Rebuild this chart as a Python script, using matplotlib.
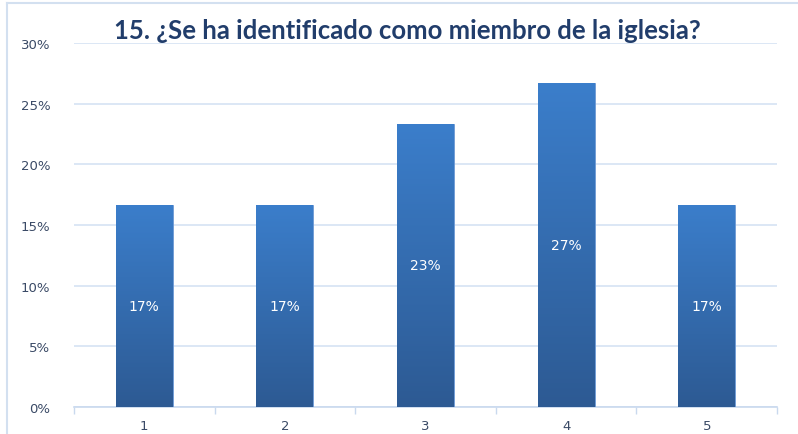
import numpy as np
import matplotlib.pyplot as plt
from matplotlib.colors import LinearSegmentedColormap
from matplotlib.ticker import PercentFormatter

categories = ['1', '2', '3', '4', '5']
values = [16.67, 16.67, 23.33, 26.67, 16.67]
labels = ['17%', '17%', '23%', '27%', '17%']
title = '15. ¿Se ha identificado como miembro de la iglesia?'

plt.rcParams['font.family'] = ['DejaVu Sans']

fig = plt.figure(figsize=(7.98, 4.35), dpi=100)
ax = fig.add_axes([0.0927, 0.0621, 0.881, 0.8368])

x = np.arange(1, len(categories) + 1)
bars = ax.bar(x, values, width=0.405, color='#3472bb', edgecolor='#6f9bd6', linewidth=0.6, zorder=3)

# vertical gradient, lighter on top
cmap = LinearSegmentedColormap.from_list('bluegrad', ['#2d5a93', '#3b7ecb'])
grad = np.linspace(0, 1, 256).reshape(-1, 1)
for b in bars:
    x0, y0 = b.get_x(), b.get_y()
    w, h = b.get_width(), b.get_height()
    im = ax.imshow(grad, cmap=cmap, origin='lower', aspect='auto',
                   extent=(x0, x0 + w, y0, y0 + h), zorder=3.5)
    im.set_clip_path(b)

for b, lab in zip(bars, labels):
    ax.text(b.get_x() + b.get_width() / 2, b.get_height() / 2, lab,
            ha='center', va='center', color='white', fontsize=10, zorder=5)

ax.set_xlim(0.5, 5.5)
ax.set_ylim(0, 30)
ax.yaxis.set_major_formatter(PercentFormatter(decimals=0))
ax.set_yticks(range(0, 31, 5))
ax.set_xticks(x)
ax.set_xticklabels(categories)
ax.set_xticks(np.arange(0.5, 6, 1), minor=True)
ax.tick_params(axis='x', which='major', length=0, pad=9, labelsize=9.5, labelcolor='#3a4a66')
ax.tick_params(axis='x', which='minor', length=5, color='#c9d9ee', width=1)
ax.tick_params(axis='y', length=0, pad=17, labelsize=9.5, labelcolor='#3a4a66')

ax.grid(axis='y', color='#d6e3f3', linewidth=1.2, zorder=0)
for s in ['top', 'right', 'left']:
    ax.spines[s].set_visible(False)
ax.spines['bottom'].set_color('#c9d9ee')
ax.spines['bottom'].set_linewidth(1.2)

fig.text(0.51, 1 - 31 / 435, title, ha='center', va='center',
         fontsize=18.5, fontweight='bold', color='#213d6b', family=['Lato', 'DejaVu Sans'])

# outer frame (extends past the image edge)
fig.add_artist(plt.Line2D([7 / 798, 1], [1 - 4 / 435, 1 - 4 / 435], color='#d3e0f0', lw=1.5))
fig.add_artist(plt.Line2D([7 / 798, 7 / 798], [0, 1 - 4 / 435], color='#d3e0f0', lw=1.5))

fig.savefig('out.png', dpi=100)
